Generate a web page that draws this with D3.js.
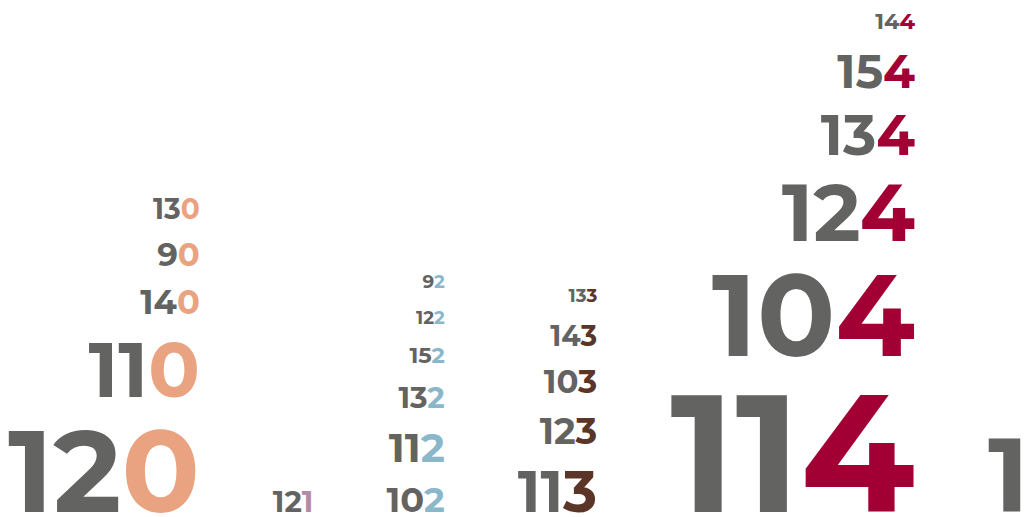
<!DOCTYPE html>
<html>
<head>
<meta charset="utf-8">
<script src="https://cdn.jsdelivr.net/npm/d3@7"></script>
<style>
  html, body { margin: 0; padding: 0; background: #fff; overflow: hidden; }
  svg { display: block; }
  text { font-family: "Montserrat", "Inter", "Lato", sans-serif; font-weight: 700; }
</style>
</head>
<body>
<svg id="chart" width="1032" height="517"></svg>
<script>
// Stem-and-leaf data: one column per leaf digit
const leaves = [0, 1, 2, 3, 4, 5];
const leafColors = ["#e9a380", "#b38aa5", "#8ab7ca", "#5b3527", "#a20035", "#7d9c6b"];
const stemColor = "#636362";
// stems for each leaf column, bottom to top
const stems0 = [12, 11, 14, 9, 13];
const stems1 = [12];
const stems2 = [10, 11, 13, 15, 12, 9];
const stems3 = [11, 12, 10, 14, 13];
const stems4 = [11, 10, 12, 13, 15, 14];
const stems5 = [10];
// weight of each number (drives its size), same order
const weights0 = [82, 54, 24, 23, 20];
const weights1 = [21];
const weights2 = [25, 29, 21, 16, 13, 13];
const weights3 = [41, 26, 23, 20, 13];
const weights4 = [118, 82, 57, 40, 33, 16];
const weights5 = [74];

const stemsByLeaf = [stems0, stems1, stems2, stems3, stems4, stems5];
const weightsByLeaf = [weights0, weights1, weights2, weights3, weights4, weights5];

const W = 1032, H = 517;
const margin = { left: 8, bottom: 5 };
const colGap = 73;

const svg = d3.select("#chart");
const sizeScale = d3.scaleLinear().domain([0, 100]).range([0, 100 / 0.71]);   // weight -> font-size
const capScale = d3.scaleLinear().domain([0, 100]).range([0, 100]);            // weight -> cap height
const color = d3.scaleOrdinal().domain(leaves).range(leafColors);

let xCursor = margin.left;
leaves.forEach((leaf, ci) => {
  const items = stemsByLeaf[ci].map((s, i) => ({ stem: s, leaf, w: weightsByLeaf[ci][i] }));
  const g = svg.append("g");
  const texts = g.selectAll("text").data(items).join("text")
    .attr("text-anchor", "end")
    .attr("font-size", d => sizeScale(d.w));
  texts.append("tspan").attr("fill", stemColor).text(d => d.stem);
  texts.append("tspan").attr("fill", d => color(d.leaf)).text(d => d.leaf);
  let maxW = 0;
  texts.each(function () { maxW = Math.max(maxW, this.getComputedTextLength()); });
  const right = xCursor + maxW;
  let base = H - margin.bottom;
  texts.each(function (d) {
    d.y = base;
    const cap = capScale(d.w);
    base = base - cap - (21 + 0.144 * cap);
  });
  texts.attr("x", right).attr("y", d => d.y);
  xCursor = right + colGap;
});
</script>
</body>
</html>
